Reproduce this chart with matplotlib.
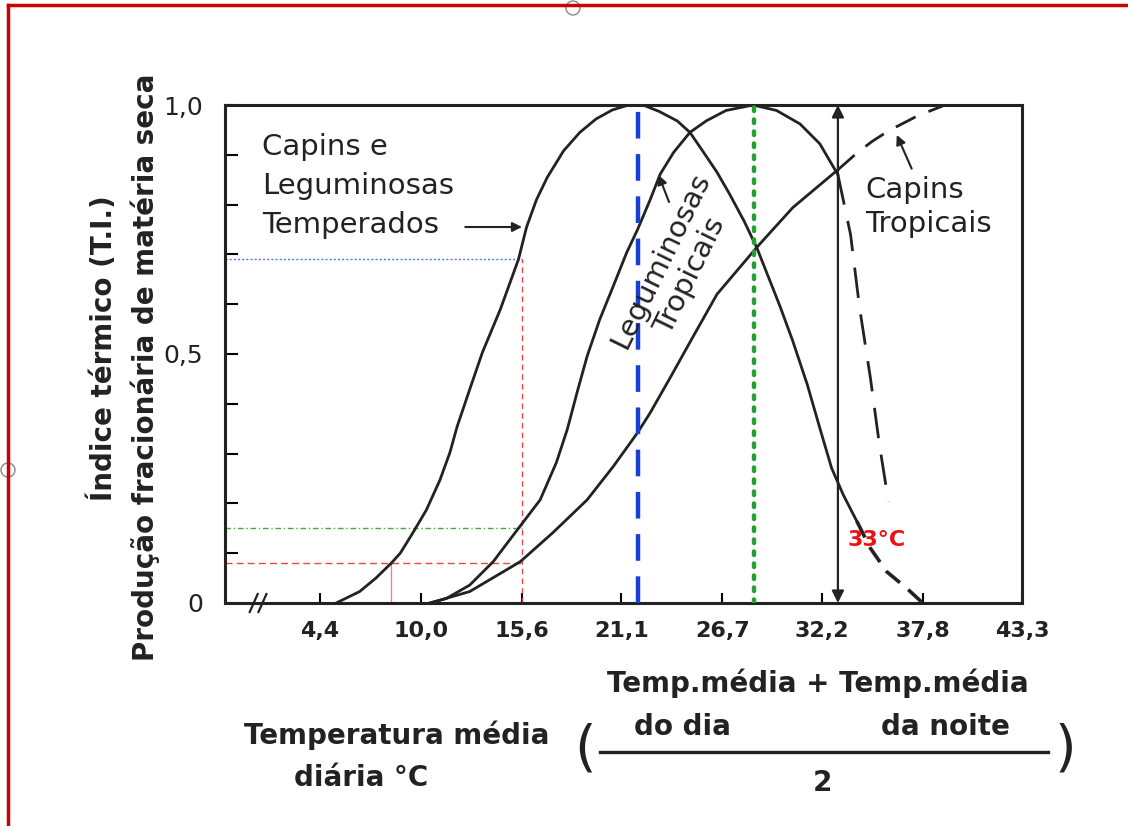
import matplotlib.pyplot as plt
from matplotlib.lines import Line2D
from matplotlib.patches import Circle
from matplotlib.transforms import IdentityTransform

W, H = 1128, 826

# --- curves (x in deg C, y = thermal index) ---
temp_x = [5.3, 6.6, 7.5, 8.35, 8.85, 9.55, 10.3, 11.05, 11.6, 12.0, 12.7, 13.4, 14.4,
          15.4, 15.85, 16.4, 17.0, 17.9, 18.8, 19.7, 20.6, 21.5,
          22.3, 23.2, 24.2, 24.9, 25.6, 26.4, 27.1, 27.9, 28.6, 29.3, 29.9, 30.6,
          31.4, 32.1, 32.75, 33.4, 34.15]
temp_y = [0.0, 0.023, 0.05, 0.08, 0.10, 0.141, 0.187, 0.247, 0.302, 0.354, 0.429, 0.503, 0.59,
          0.69, 0.755, 0.81, 0.855, 0.908, 0.945, 0.972, 0.99, 1.0,
          1.0, 0.987, 0.968, 0.945, 0.908, 0.865, 0.821, 0.767, 0.714, 0.65, 0.595, 0.526,
          0.439, 0.351, 0.271, 0.217, 0.164]
temp_dash_x = [34.15, 34.9, 35.8, 36.9, 37.8]
temp_dash_y = [0.164, 0.11, 0.063, 0.03, 0.0]

leg_x = [10.5, 11.4, 12.7, 14.0, 15.4, 16.6, 17.5, 18.1, 18.65, 19.2, 19.9, 20.65, 21.4,
         22.0, 22.7, 23.25, 24.0, 24.9, 25.8, 26.9, 28.4, 29.7, 31.0, 32.1, 33.1]
leg_y = [0.0, 0.009, 0.036, 0.083, 0.15, 0.207, 0.282, 0.348, 0.423, 0.495, 0.569, 0.636, 0.704,
         0.75, 0.81, 0.861, 0.905, 0.945, 0.968, 0.989, 1.0, 0.989, 0.962, 0.922, 0.86]
leg_dash_x = [33.1, 33.8, 34.3, 34.9, 35.4, 35.9]
leg_dash_y = [0.86, 0.74, 0.593, 0.452, 0.318, 0.204]

trop_x = [10.5, 12.7, 15.5, 17.3, 19.2, 20.65, 22.0, 22.7, 23.8, 25.0, 26.4, 28.6, 30.6, 33.1]
trop_y = [0.0, 0.023, 0.083, 0.141, 0.207, 0.274, 0.342, 0.382, 0.452, 0.53, 0.62, 0.714, 0.794, 0.87]
trop_dash_x = [33.1, 34.2, 35.0, 35.9, 37.5, 38.9]
trop_dash_y = [0.87, 0.905, 0.927, 0.948, 0.978, 0.998]

xtick_pos = [4.4, 10.0, 15.6, 21.1, 26.7, 32.2, 37.8, 43.3]
xtick_labels = ['4,4', '10,0', '15,6', '21,1', '26,7', '32,2', '37,8', '43,3']
ytick_pos = [0, 0.5, 1.0]
ytick_labels = ['0', '0,5', '1,0']

ref_x = 15.6        # 15,6 degC reading
ref_levels = [0.69, 0.15, 0.08]
low_x = 8.35        # temperate curve at 0.08
blue_x = 22.0
green_x = 28.45
limit_x = 33.1      # 33 degC

INK = '#222222'


def fx(px):
    return px / W


def fy(py):
    return 1 - py / H


fig = plt.figure(figsize=(W / 100, H / 100), dpi=100)
ax = fig.add_axes([fx(225), fy(603), (1022 - 225) / W, (603 - 105) / H])
ax.set_xlim(-0.86, 43.3)
ax.set_ylim(0, 1.0)

# reference lines
ax.plot([-0.86, ref_x], [ref_levels[0]] * 2, color='#5577ee', lw=1, ls=(0, (1.5, 1.5)))
ax.plot([-0.86, ref_x], [ref_levels[1]] * 2, color='#44aa44', lw=1, ls=(0, (4, 2, 1, 2)))
ax.plot([-0.86, ref_x], [ref_levels[2]] * 2, color='#ee4444', lw=1, ls=(0, (5, 3)))
ax.plot([ref_x, ref_x], [0, ref_levels[0]], color='#ee4444', lw=1, ls=(0, (4, 3)))
ax.plot([low_x, low_x], [0, ref_levels[2]], color='#f08080', lw=1)

ax.plot([blue_x, blue_x], [0, 1], color='#1840d8', lw=3.2, ls=(0, (6, 3.5)), zorder=3)
ax.plot([green_x, green_x], [0, 1], color='#22a030', lw=3.2, ls=(0, (0.8, 1.9)),
        dash_capstyle='round', zorder=3)

# curves
ax.plot(temp_x, temp_y, color=INK, lw=2)
ax.plot(temp_dash_x, temp_dash_y, color=INK, lw=2.6, ls=(0, (5, 3)))
ax.plot(leg_x, leg_y, color=INK, lw=2)
ax.plot(leg_dash_x, leg_dash_y, color=INK, lw=2, ls=(0, (11, 6)))
ax.plot(trop_x, trop_y, color=INK, lw=2)
ax.plot(trop_dash_x, trop_dash_y, color=INK, lw=2, ls=(0, (8, 5)))

# 33 degC double arrow
ax.annotate('', xy=(limit_x, 1.0), xytext=(limit_x, 0.0),
            arrowprops=dict(arrowstyle='<|-|>', color=INK, lw=1.6,
                            mutation_scale=18, shrinkA=0, shrinkB=0))
ax.text(35.25, 0.127, '33°C', color='#ee1111', fontsize=16, fontweight='bold',
        ha='center', va='center')

# labels inside the plot
ax.text(1.2, 0.837, 'Capins e\nLeguminosas\nTemperados', fontsize=21,
        ha='left', va='center', linespacing=1.5, color=INK)
ax.annotate('', xy=(15.75, 0.755), xytext=(12.3, 0.755),
            arrowprops=dict(arrowstyle='-|>', color=INK, lw=1.5, mutation_scale=14))
ax.text(24.1, 0.672, 'Leguminosas\nTropicais', fontsize=21, rotation=64,
        ha='center', va='center', multialignment='center', linespacing=1.25, color=INK)
ax.annotate('', xy=(23.1, 0.865), xytext=(23.8, 0.8),
            arrowprops=dict(arrowstyle='-|>', color=INK, lw=1.5, mutation_scale=14))
ax.text(34.6, 0.795, 'Capins\nTropicais', fontsize=21, ha='left', va='center',
        linespacing=1.3, color=INK)
ax.annotate('', xy=(36.3, 0.945), xytext=(37.25, 0.867),
            arrowprops=dict(arrowstyle='-|>', color=INK, lw=1.5, mutation_scale=14))

# axes styling
for s in ax.spines.values():
    s.set_linewidth(2.2)
    s.set_color(INK)
ax.set_xticks(xtick_pos)
ax.set_xticklabels(xtick_labels, fontsize=16, fontweight='bold', color=INK)
ax.set_yticks(ytick_pos)
ax.set_yticklabels(ytick_labels, fontsize=18, color=INK)
ax.set_yticks([i / 10 for i in range(11)], minor=True)
ax.tick_params(axis='x', direction='in', length=7, width=1.5, pad=13)
ax.tick_params(axis='y', which='both', direction='in', length=9, width=1.5, pad=16)

# axis break marks
for dx in (0.0, 0.011):
    ax.plot([0.031 + dx, 0.041 + dx], [-0.018, 0.018], transform=ax.transAxes,
            color=INK, lw=1.6, clip_on=False)

# y axis titles
fig.text(fx(103), fy(348), 'Índice térmico (T.I.)', rotation=90, fontsize=20,
         fontweight='bold', ha='center', va='center', color=INK)
fig.text(fx(145), fy(367), 'Produção fracionária de matéria seca', rotation=90,
         fontsize=20, fontweight='bold', ha='center', va='center', color=INK)

# x axis titles
fig.text(fx(397), fy(735), 'Temperatura média', fontsize=20, fontweight='bold',
         ha='center', va='center', color=INK)
fig.text(fx(361), fy(778), 'diária °C', fontsize=20, fontweight='bold',
         ha='center', va='center', color=INK)
fig.text(fx(585), fy(750), '(', fontsize=40, ha='center', va='center', color=INK)
fig.text(fx(1065), fy(750), ')', fontsize=40, ha='center', va='center', color=INK)
fig.text(fx(818), fy(683), 'Temp.média + Temp.média', fontsize=20, fontweight='bold',
         ha='center', va='center', color=INK)
fig.text(fx(682), fy(727), 'do dia', fontsize=20, fontweight='bold',
         ha='center', va='center', color=INK)
fig.text(fx(945), fy(727), 'da noite', fontsize=20, fontweight='bold',
         ha='center', va='center', color=INK)
fig.add_artist(Line2D([fx(600), fx(1048)], [fy(752), fy(752)], color=INK, lw=2.4))
fig.text(fx(822), fy(783), '2', fontsize=20, fontweight='bold',
         ha='center', va='center', color=INK)

# red frame of the screenshot
fig.add_artist(Line2D([fx(8), fx(8)], [0, fy(5)], color='#cc0000', lw=2.5))
fig.add_artist(Line2D([fx(8), 1], [fy(5), fy(5)], color='#cc0000', lw=2.5))
for cx, cy in [(573, 8), (8, 470)]:
    fig.add_artist(Circle((cx, H - cy), 7, transform=IdentityTransform(),
                          facecolor='white', edgecolor='#888888', lw=1))

fig.savefig('out.png', dpi=100)
